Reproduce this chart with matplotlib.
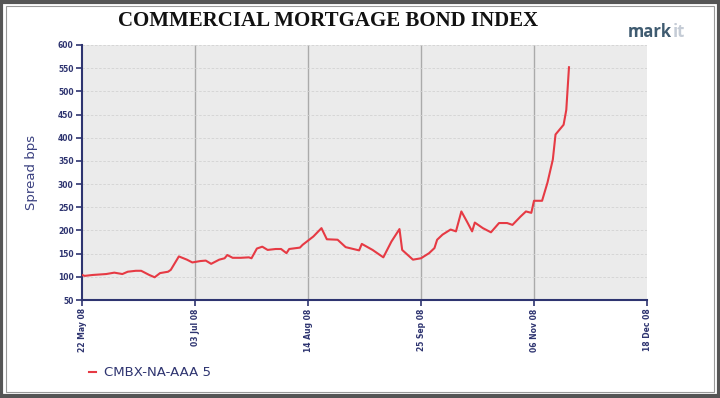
import matplotlib
matplotlib.use("Agg")
import matplotlib.pyplot as plt
import matplotlib.dates as mdates
from matplotlib.patches import Rectangle
import numpy as np

dates = ["2008-05-22", "2008-05-23", "2008-05-26", "2008-05-31", "2008-06-03", "2008-06-06",
         "2008-06-08", "2008-06-11", "2008-06-13", "2008-06-16", "2008-06-18", "2008-06-20",
         "2008-06-23", "2008-06-24", "2008-06-27", "2008-06-30", "2008-07-02", "2008-07-05",
         "2008-07-07", "2008-07-09", "2008-07-12", "2008-07-14", "2008-07-15", "2008-07-17",
         "2008-07-20", "2008-07-23", "2008-07-24", "2008-07-26", "2008-07-28", "2008-07-30",
         "2008-08-02", "2008-08-04", "2008-08-06", "2008-08-07", "2008-08-11", "2008-08-12",
         "2008-08-16", "2008-08-19", "2008-08-21", "2008-08-25", "2008-08-28", "2008-09-02",
         "2008-09-03", "2008-09-07", "2008-09-11", "2008-09-14", "2008-09-17", "2008-09-18",
         "2008-09-22", "2008-09-25", "2008-09-28", "2008-09-30", "2008-10-01", "2008-10-03",
         "2008-10-06", "2008-10-08", "2008-10-10", "2008-10-12", "2008-10-14", "2008-10-15",
         "2008-10-18", "2008-10-21", "2008-10-24", "2008-10-27", "2008-10-29", "2008-11-01",
         "2008-11-03", "2008-11-05", "2008-11-06", "2008-11-09", "2008-11-11", "2008-11-13",
         "2008-11-14", "2008-11-17", "2008-11-18", "2008-11-19"]
spread = [104, 102, 104, 106, 109, 106,
          111, 113, 113, 104, 99, 108,
          111, 115, 144, 137, 131, 134,
          135, 128, 137, 140, 147, 141,
          141, 142, 140, 161, 165, 158,
          160, 160, 151, 160, 163, 169,
          187, 205, 181, 180, 164, 157,
          171, 158, 142, 176, 203, 158,
          137, 140, 151, 162, 180, 191,
          202, 198, 241, 220, 198, 217,
          205, 196, 216, 216, 212, 230,
          241, 238, 264, 264, 303, 353,
          407, 428, 460, 552]
series_name = "CMBX-NA-AAA 5"
tick_dates = ["2008-05-22", "2008-07-03", "2008-08-14", "2008-09-25", "2008-11-06", "2008-12-18"]
tick_labels = ["22 May 08", "03 Jul 08", "14 Aug 08", "25 Sep 08", "06 Nov 08", "18 Dec 08"]
y_ticks = list(range(50, 601, 50))

navy = "#2e3470"
fig = plt.figure(figsize=(7.2, 3.98), dpi=100)
fig.patch.set_facecolor("white")

# outer frame
fig.patches.append(Rectangle((0.002, 0.004), 0.996, 0.992, transform=fig.transFigure,
                             fill=False, edgecolor="#555555", linewidth=3))
fig.patches.append(Rectangle((0.009, 0.016), 0.982, 0.968, transform=fig.transFigure,
                             fill=False, edgecolor="#999999", linewidth=0.8))

ax = fig.add_axes([82/720, 1-300/398, (647-82)/720, (300-45)/398])
ax.set_facecolor("#ebebeb")

x = mdates.datestr2num(dates)
ax.plot(x, spread, color="#e63a44", linewidth=1.5, label=series_name, zorder=3)

tx = mdates.datestr2num(tick_dates)
ax.set_xlim(tx[0], tx[-1])
ax.set_ylim(50, 600)
ax.set_xticks(tx)
ax.set_xticklabels(tick_labels, rotation=90, fontsize=5.5, color=navy, fontweight="bold")
ax.set_yticks(y_ticks)
ax.set_yticklabels([str(v) for v in y_ticks], fontsize=5.5, color=navy, fontweight="bold")
ax.tick_params(axis="both", length=4, width=1.2, color=navy, pad=2)

for t in tx[1:-1]:
    ax.axvline(t, color="#aaaaaa", linewidth=1.0, zorder=1)
for v in y_ticks[1:]:
    ax.axhline(v, color="#d2d2d2", linewidth=0.6, linestyle=(0, (3, 2)), zorder=1)

for s in ["top", "right"]:
    ax.spines[s].set_visible(False)
for s in ["left", "bottom"]:
    ax.spines[s].set_color(navy)
    ax.spines[s].set_linewidth(1.5)

ax.set_ylabel("Spread bps", fontsize=9.5, color="#3a4080", labelpad=14)

fig.text(328/720, 1-21/398, "COMMERCIAL MORTGAGE BOND INDEX", ha="center", va="center",
         fontsize=15, fontweight="bold", family="Liberation Serif", color="#111111")
t_mark = fig.text(628/720, 1-32/398, "mark", ha="left", va="center", fontsize=12,
                  color="#3f5b70", fontweight="bold", family="Open Sans")
fig.canvas.draw()
bb = t_mark.get_window_extent()
fig.text((bb.x1 + 0.2) / 720, 1-32/398, "it", ha="left", va="center", fontsize=12,
         color="#c5ccd6", fontweight="bold", family="Open Sans")

leg = ax.legend(loc="upper left", bbox_to_anchor=(84/720, 1-361/398), bbox_transform=fig.transFigure,
                frameon=False, fontsize=9.5, handlelength=0.5, handletextpad=0.6, borderaxespad=0)
for t in leg.get_texts():
    t.set_color(navy)

fig.savefig("out.png", dpi=100)
